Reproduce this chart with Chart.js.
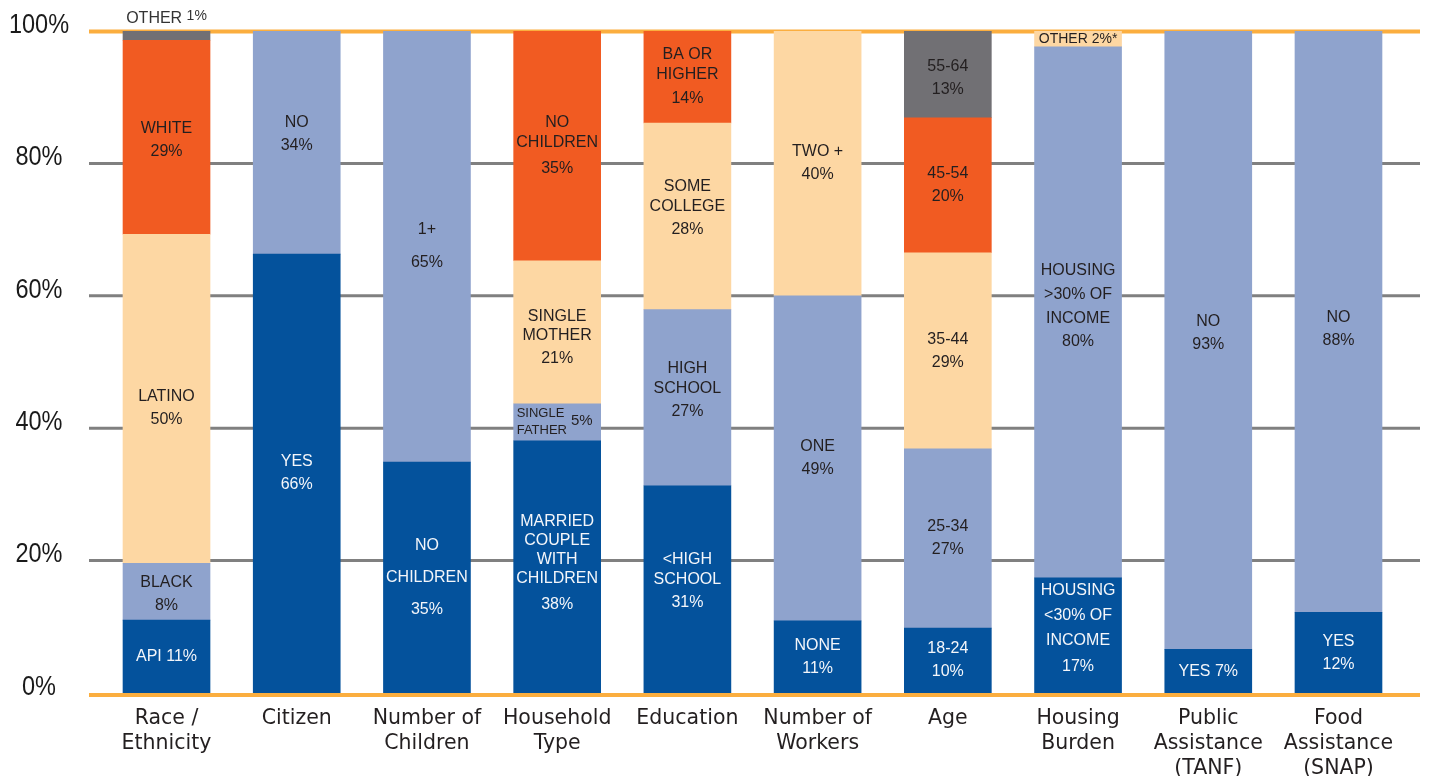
<!DOCTYPE html>
<html>
<head>
<meta charset="utf-8">
<script src="https://cdn.jsdelivr.net/npm/chart.js@4"></script>
<style>
  html, body { margin: 0; padding: 0; background: #ffffff; }
  #wrap { position: relative; width: 1430px; height: 776px; }
</style>
</head>
<body>
<div id="wrap"><canvas id="c" width="1430" height="776"></canvas></div>
<script>
// ---------------- DATA ----------------
const categories = [["Race /", "Ethnicity"], "Citizen", ["Number of", "Children"], ["Household", "Type"], "Education",
  ["Number of", "Workers"], "Age", ["Housing", "Burden"], ["Public", "Assistance", "(TANF)"], ["Food", "Assistance", "(SNAP)"]];

// segment shares (%) stacked bottom -> top, grouped by colour
const darkBlue  = [11.0, 66.3, 34.9, 38.1, 31.3, 10.9,  9.8, 17.4,  6.6, 12.2];
const lightBlue = [ 8.6, 33.7, 65.1,  5.6, 26.6, 49.1, 27.1, 80.2, 93.4, 87.8];
const peach     = [49.7, null, null, 21.6, 28.2, 40.0, 29.6,  2.4, null, null];
const orange    = [29.3, null, null, 34.7, 13.9, null, 20.4, null, null, null];
const gray      = [ 1.4, null, null, null, null, null, 13.1, null, null, null];

const yTickValues = [0, 20, 40, 60, 80, 100];

// segment label texts
const labelsDarkBlue = [["API 11%"], ["YES", "66%"], ["NO", "CHILDREN", "35%"], ["MARRIED", "COUPLE", "WITH", "CHILDREN", "38%"],
  ["<HIGH", "SCHOOL", "31%"], ["NONE", "11%"], ["18-24", "10%"], ["HOUSING", "<30% OF", "INCOME", "17%"], ["YES 7%"], ["YES", "12%"]];
const labelsLightBlue = [["BLACK", "8%"], ["NO", "34%"], ["1+", "65%"], ["SINGLE", "FATHER", "5%"], ["HIGH", "SCHOOL", "27%"],
  ["ONE", "49%"], ["25-34", "27%"], ["HOUSING", ">30% OF", "INCOME", "80%"], ["NO", "93%"], ["NO", "88%"]];
const labelsPeach = [["LATINO", "50%"], null, null, ["SINGLE", "MOTHER", "21%"], ["SOME", "COLLEGE", "28%"], ["TWO +", "40%"],
  ["35-44", "29%"], ["OTHER 2%*"], null, null];
const labelsOrange = [["WHITE", "29%"], null, null, ["NO", "CHILDREN", "35%"], ["BA OR", "HIGHER", "14%"], null, ["45-54", "20%"], null, null, null];
const labelsGray = [["OTHER", "1%"], null, null, null, null, null, ["55-64", "13%"], null, null, null];

// ---------------- STYLE ----------------
const COLORS = { darkBlue: '#04529C', lightBlue: '#8FA3CD', peach: '#FDD7A3', orange: '#F15B22', gray: '#717074' };
const LABEL_FONT = '"Liberation Sans", Arial, sans-serif';
const DARK_TEXT = '#231F20';
const LIGHT_TEXT = '#F4F6FA';
const GRID_LEFT = 89, GRID_RIGHT = 1420;

// per-label layout tweaks: key "dataset-index"
const labelTweaks = {
  '0-2': { gap: 32, pctGap: 32 },
  '0-3': { gap: 19, pctGap: 26, dy: -4 },
  '0-4': { dy: -8 },
  '0-7': { gap: 25, pctGap: 26, dy: -7 },
  '1-0': { dy: 2 },
  '1-1': { dy: -8 },
  '1-2': { pctGap: 33 },
  '1-3': { special: 'singleFather' },
  '1-4': { dy: -8 },
  '1-7': { gap: 24, pctGap: 23, dy: -6 },
  '1-8': { dy: -7 },
  '1-9': { dy: 7 },
  '2-0': { dy: 9 },
  '2-3': { gap: 19, dy: 5 },
  '2-4': { dy: -8 },
  '2-7': { size: 14 },
  '3-0': { dy: 3 },
  '3-3': { pctGap: 26 },
  '3-4': { pctGap: 24 },
  '4-0': { special: 'above' },
  '4-6': { dy: 4 }
};

const datasetLabels = [labelsDarkBlue, labelsLightBlue, labelsPeach, labelsOrange, labelsGray];
const textColors = [LIGHT_TEXT, DARK_TEXT, DARK_TEXT, DARK_TEXT, DARK_TEXT];

const gridPlugin = {
  id: 'refGrid',
  beforeDatasetsDraw(chart) {
    const ys = chart.scales.y, ctx = chart.ctx;
    ctx.save();
    ys.ticks.forEach(t => {
      const v = t.value;
      let y = ys.getPixelForValue(v);
      const edge = (v === 0 || v === 100);
      ctx.strokeStyle = edge ? '#FBAE3F' : '#808080';
      ctx.lineWidth = edge ? 4 : 3;
      if (v === 0) y += 2; else if (v === 100) y += 0.5;
      ctx.beginPath(); ctx.moveTo(GRID_LEFT, y); ctx.lineTo(GRID_RIGHT, y); ctx.stroke();
    });
    // y tick labels (condensed face, drawn from the scale's own ticks)
    ctx.fillStyle = '#1A1A1A';
    ctx.font = '28px "Liberation Sans", Arial, sans-serif';
    ctx.textAlign = 'center';
    ctx.textBaseline = 'middle';
    ys.ticks.forEach(t => {
      const y = ys.getPixelForValue(t.value) - 6;
      ctx.save();
      ctx.translate(39, y);
      ctx.scale(0.84, 1);
      ctx.fillText(t.value + '%', 0, 0);
      ctx.restore();
    });
    ctx.restore();
  }
};

const labelPlugin = {
  id: 'segLabels',
  afterDatasetsDraw(chart) {
    const ctx = chart.ctx;
    datasetLabels.forEach((labs, d) => {
      const meta = chart.getDatasetMeta(d);
      labs.forEach((lines, i) => {
        if (!lines) return;
        const el = meta.data[i];
        if (!el) return;
        const p = el.getProps(['x', 'y', 'base', 'width'], true);
        const tw = labelTweaks[d + '-' + i] || {};
        const left = p.x - p.width / 2, right = p.x + p.width / 2;
        const top = Math.min(p.y, p.base), bot = Math.max(p.y, p.base);
        ctx.save();
        ctx.beginPath(); ctx.rect(left, 0, p.width, chart.height); ctx.clip();
        ctx.fillStyle = textColors[d];
        ctx.textBaseline = 'middle';
        if (tw.special === 'above') {
          ctx.fillStyle = '#333333';
          ctx.font = '16px ' + LABEL_FONT;
          ctx.textAlign = 'left';
          const w1 = ctx.measureText(lines[0] + ' ').width;
          ctx.font = '14px ' + LABEL_FONT;
          const w2 = ctx.measureText(lines[1]).width;
          const sx = p.x - (w1 + w2) / 2;
          ctx.font = '16px ' + LABEL_FONT;
          ctx.fillText(lines[0], sx, top - 12);
          ctx.font = '14px ' + LABEL_FONT;
          ctx.fillText(lines[1], sx + w1, top - 15);
        } else if (tw.special === 'singleFather') {
          const cy = (top + bot) / 2;
          ctx.font = '13px ' + LABEL_FONT;
          ctx.textAlign = 'left';
          ctx.fillText(lines[0], left + 3, cy - 9);
          ctx.fillText(lines[1], left + 3, cy + 8);
          ctx.font = '15px ' + LABEL_FONT;
          ctx.textAlign = 'right';
          ctx.fillText(lines[2], right - 8, cy - 1);
        } else {
          const size = tw.size || 16;
          const gap = tw.gap || 20, pctGap = tw.pctGap || 23;
          const n = lines.length;
          const offs = [0];
          for (let k = 1; k < n; k++) {
            const isPct = (k === n - 1) && /%$/.test(lines[k]);
            offs.push(offs[k - 1] + (isPct ? pctGap : gap));
          }
          const total = offs[n - 1];
          const cy = (top + bot) / 2 + (tw.dy || 0);
          ctx.font = size + 'px ' + LABEL_FONT;
          ctx.textAlign = 'center';
          lines.forEach((ln, k) => ctx.fillText(ln, p.x, cy - total / 2 + offs[k]));
        }
        ctx.restore();
      });
    });
  }
};

const ds = (data, color) => ({ data, backgroundColor: color, borderWidth: 0, barThickness: 87 });

new Chart(document.getElementById('c'), {
  type: 'bar',
  data: {
    labels: categories,
    datasets: [
      ds(darkBlue, COLORS.darkBlue),
      ds(lightBlue, COLORS.lightBlue),
      ds(peach, COLORS.peach),
      ds(orange, COLORS.orange),
      ds(gray, COLORS.gray)
    ]
  },
  options: {
    responsive: false,
    animation: false,
    devicePixelRatio: 1,
    layout: { padding: { top: 31, right: 26.4, left: 0, bottom: 0 } },
    plugins: { legend: { display: false }, tooltip: { enabled: false } },
    scales: {
      x: {
        stacked: true,
        grid: { display: false, drawTicks: false },
        border: { display: false },
        ticks: {
          color: '#231F20',
          padding: 13,
          maxRotation: 0,
          autoSkip: false,
          font: { family: '"DejaVu Sans", sans-serif', size: 20.5, lineHeight: 1.22 }
        },
        afterFit(scale) { scale.height = 83; scale.paddingLeft = 0; scale.paddingRight = 0; }
      },
      y: {
        stacked: true,
        min: 0, max: 100,
        afterBuildTicks(scale) { scale.ticks = yTickValues.map(v => ({ value: v })); },
        grid: { display: false, drawTicks: false },
        border: { display: false },
        ticks: { display: false },
        afterFit(scale) { scale.width = 101.4; scale.paddingTop = 0; scale.paddingBottom = 0; }
      }
    }
  },
  plugins: [gridPlugin, labelPlugin]
});
</script>
</body>
</html>
